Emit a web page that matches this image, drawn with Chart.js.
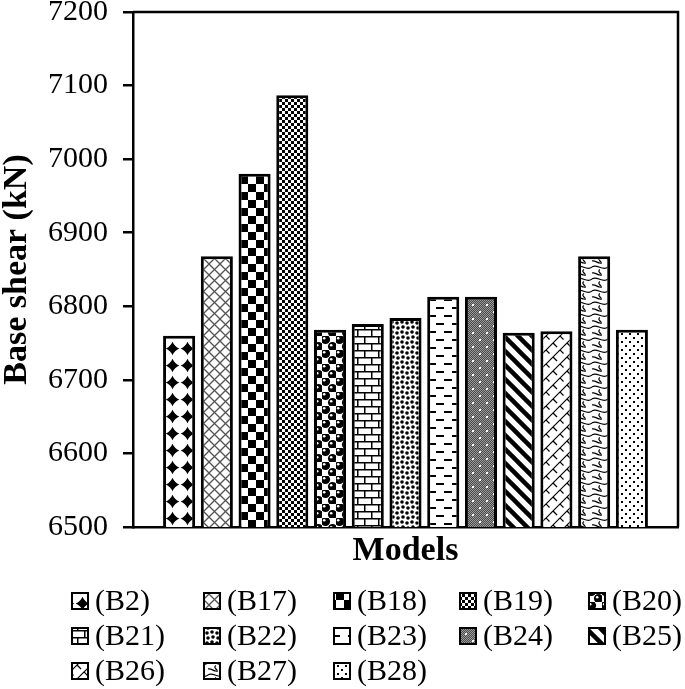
<!DOCTYPE html>
<html>
<head>
<meta charset="utf-8">
<script src="https://cdn.jsdelivr.net/npm/chart.js@4.4.1/dist/chart.umd.min.js"></script>
<style>
    html, body { margin: 0; padding: 0; background: #fff; }
</style>
</head>
<body>
<canvas id="shearChart" width="685" height="689"></canvas>
<script>
const models = ['(B2)', '(B17)', '(B18)', '(B19)', '(B20)', '(B21)', '(B22)',
                '(B23)', '(B24)', '(B25)', '(B26)', '(B27)', '(B28)'];
const baseShear = [6760, 6868, 6980, 7087, 6768, 6776, 6784, 6813, 6813, 6764, 6766, 6868, 6768];
const xTitle = 'Models';
const yTitle = 'Base shear (kN)';
const yMin = 6500, yMax = 7200, yStep = 100;

const SERIF = '"Liberation Serif", "Times New Roman", serif';

// small repeating tiles that mimic the Excel pattern fills
function tile(w, h, paint) {
    const c = document.createElement('canvas');
    c.width = w; c.height = h;
    const g = c.getContext('2d');
    g.fillStyle = '#fff';
    g.fillRect(0, 0, w, h);
    g.fillStyle = '#000';
    g.strokeStyle = '#000';
    paint(g, w, h);
    return g.createPattern(c, 'repeat');
}

function line(g, x1, y1, x2, y2) {
    g.beginPath(); g.moveTo(x1, y1); g.lineTo(x2, y2); g.stroke();
}

const painters = [
    // B2 - black diamonds
    (g, w, h) => {
        const cx = w / 2, cy = h / 2, rx = 6.8, ry = 6.8;
        g.beginPath();
        g.moveTo(cx, cy - ry);
        g.quadraticCurveTo(cx + 2, cy - 2, cx + rx, cy);
        g.quadraticCurveTo(cx + 2, cy + 2, cx, cy + ry);
        g.quadraticCurveTo(cx - 2, cy + 2, cx - rx, cy);
        g.quadraticCurveTo(cx - 2, cy - 2, cx, cy - ry);
        g.fill();
    },
    // B17 - thin diagonal cross
    (g, w, h) => {
        g.strokeStyle = '#555'; g.lineWidth = 1.3;
        line(g, 0, 0, w, h); line(g, w, 0, 0, h);
    },
    // B18 - large checkerboard
    (g, w, h) => { g.fillRect(0, 0, w / 2, h / 2); g.fillRect(w / 2, h / 2, w / 2, h / 2); },
    // B19 - small checker
    (g, w, h) => { g.fillRect(0, 0, w / 2, h / 2); g.fillRect(w / 2, h / 2, w / 2, h / 2); },
    // B20 - spheres
    (g, w, h) => {
        [[3.5, 3.5], [10.5, 10.5]].forEach(([cx, cy]) => {
            g.fillStyle = '#000';
            g.beginPath(); g.arc(cx, cy, 4.6, 0, Math.PI * 2); g.fill();
            g.fillStyle = '#fff';
            g.beginPath(); g.arc(cx - 1.3, cy - 1.3, 1.3, 0, Math.PI * 2); g.fill();
        });
    },
    // B21 - horizontal brick
    (g, w, h) => {
        g.lineWidth = 1.5;
        line(g, 0, 0.75, w, 0.75); line(g, 0, 7.75, w, 7.75);
        line(g, 0.75, 0, 0.75, 7); line(g, 7.75, 7, 7.75, 14);
    },
    // B22 - dense dots
    (g, w, h) => {
        [[2, 2], [7, 3], [3, 7], [8, 8]].forEach(([cx, cy]) => {
            g.beginPath(); g.arc(cx, cy, 1.8, 0, Math.PI * 2); g.fill();
        });
    },
    // B23 - dashed horizontal
    (g, w, h) => { g.fillRect(4, 3, 8, 2); g.fillRect(12, 11, 8, 2); g.fillRect(-4, 11, 8, 2); },
    // B24 - grey mesh with white dots
    (g, w, h) => {
        for (let y = 0; y < h; y++) {
            for (let x = 0; x < w; x++) {
                g.fillStyle = (x + y) % 2 ? '#4a4a4a' : '#9a9a9a';
                g.fillRect(x, y, 1, 1);
            }
        }
        g.fillStyle = '#fff';
        g.fillRect(3, 3, 2, 2); g.fillRect(10, 10, 2, 2);
    },
    // B25 - wide downward diagonal
    (g, w, h) => {
        g.lineWidth = 4.5;
        [-w, 0, w].forEach(c => line(g, c - 2, -2, c + w + 2, h + 2));
    },
    // B26 - diagonal brick
    (g, w, h) => {
        g.lineWidth = 1.2;
        [0, w, 2 * w].forEach(c => line(g, c + 1, -1, c - w - 1, h + 1));
        line(g, w / 2, h / 2, w * 0.75 + 0.5, h * 0.75 + 0.5);
        line(g, 0, 0, w / 4, h / 4); line(g, w, 0, w + w / 4, h / 4);
    },
    // B27 - wave / shingle
    (g, w, h) => {
        g.lineWidth = 1.2;
        g.beginPath(); g.moveTo(0, 3); g.bezierCurveTo(5, -1, 11, 8, w, 3); g.stroke();
        g.beginPath(); g.moveTo(8, 5.5); g.bezierCurveTo(4, 8, 12, 10, 8, h + 0.5); g.stroke();
        g.beginPath(); g.moveTo(0, 9); g.bezierCurveTo(3, 8, 5, 11, 8, 11); g.stroke();
    },
    // B28 - sparse dots
    (g, w, h) => { g.fillRect(1, 1, 2, 2); g.fillRect(5, 5, 2, 2); }
];
const tileSizes = [[15, 17], [11, 11], [16, 16], [6, 6], [14, 14], [14, 14], [10, 10],
                   [16, 16], [14, 14], [14, 14], [14, 14], [16, 12], [8, 8]];
const patterns = painters.map((p, i) => tile(tileSizes[i][0], tileSizes[i][1], p));

// box round the plot area (top and right edges)
const frame = {
    id: 'frame',
    afterDraw(chart) {
        const { ctx, chartArea: a } = chart;
        ctx.save();
        ctx.strokeStyle = '#000';
        ctx.lineWidth = 2.5;
        ctx.beginPath();
        ctx.moveTo(a.left, a.top);
        ctx.lineTo(a.right, a.top);
        ctx.lineTo(a.right, a.bottom);
        ctx.stroke();
        ctx.restore();
    }
};

// Excel-like legend laid out in a 5 column grid
const gridLegend = {
    id: 'gridLegend',
    afterDraw(chart) {
        const cols = [71, 203, 333, 459, 588];
        const rows = [601, 636, 671];
        const ctx = chart.ctx;
        chart.data.datasets.forEach((ds, i) => {
            const x = cols[i % cols.length];
            const y = rows[Math.floor(i / cols.length)];
            ctx.save();
            ctx.fillStyle = ds.backgroundColor;
            ctx.fillRect(x, y - 9, 18, 18);
            ctx.strokeStyle = '#000';
            ctx.lineWidth = 2;
            ctx.strokeRect(x + 1, y - 8, 16, 16);
            ctx.fillStyle = '#000';
            ctx.font = '30px ' + SERIF;
            ctx.textBaseline = 'middle';
            ctx.fillText(ds.label, x + 24, y + 1);
            ctx.restore();
        });
    }
};

const ctx = document.getElementById('shearChart').getContext('2d');
new Chart(ctx, {
    type: 'bar',
    data: {
        labels: [xTitle],
        datasets: models.map((m, i) => ({
            label: m,
            data: [baseShear[i]],
            backgroundColor: patterns[i],
            borderColor: '#000',
            borderWidth: 3,
            categoryPercentage: 0.9,
            barPercentage: 0.85
        }))
    },
    options: {
        responsive: false,
        animation: false,
        layout: { padding: { left: 0, right: 7, top: 12, bottom: 102 } },
        plugins: { legend: { display: false }, tooltip: { enabled: false } },
        scales: {
            x: {
                ticks: { display: false },
                grid: { display: false },
                border: { display: true, color: '#000', width: 2.5 },
                title: {
                    display: true, text: xTitle, color: '#000',
                    font: { family: SERIF, size: 34, weight: 'bold', lineHeight: 1 },
                    padding: { top: 0, bottom: 19 }
                },
                afterFit: s => { s.height = 60; }
            },
            y: {
                min: yMin,
                max: yMax,
                ticks: {
                    stepSize: yStep, color: '#000', padding: 15,
                    font: { family: SERIF, size: 30 },
                    callback: v => String(v)
                },
                grid: { drawOnChartArea: false, drawTicks: true, tickLength: 10, color: '#000', lineWidth: 2.5 },
                border: { display: true, color: '#000', width: 2.5 },
                title: {
                    display: true, text: yTitle, color: '#000',
                    font: { family: SERIF, size: 34, weight: 'bold', lineHeight: 1 },
                    padding: { top: 0, bottom: 0 }
                },
                afterFit: s => { s.width = 133; s.paddingTop = 0; s.paddingBottom = 0; }
            }
        }
    },
    plugins: [frame, gridLegend]
});
</script>
</body>
</html>
